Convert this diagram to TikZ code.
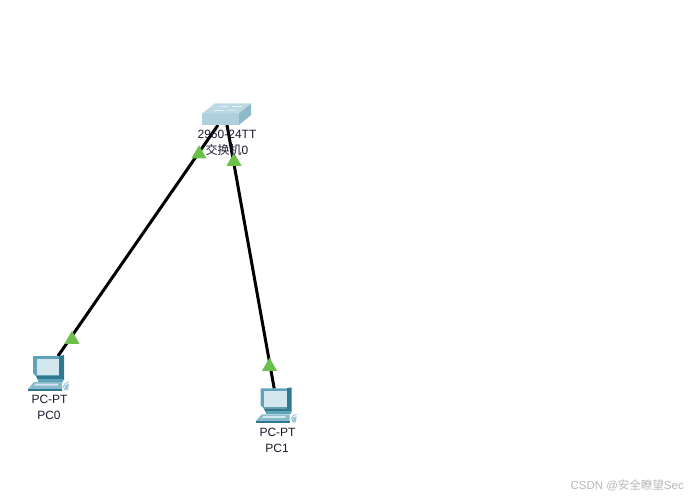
\documentclass[tikz,border=0pt]{standalone}
\usepackage{fontspec}
\setmainfont{Liberation Sans}
\newfontfamily\cjk{Noto Sans CJK SC}
\usetikzlibrary{shapes.geometric}
\definecolor{scrn}{HTML}{D3E6EE}
\definecolor{mon}{HTML}{5FA3B8}
\definecolor{mond}{HTML}{2F7890}
\definecolor{swf}{HTML}{AECFDC}
\definecolor{swt}{HTML}{BCD8E2}
\definecolor{sws}{HTML}{8DB9C8}
\definecolor{tri}{HTML}{6CC04A}
\definecolor{lbl}{HTML}{1A1A2E}
\tikzset{
  x=1pt,y=-1pt,
  link/.style={line width=3pt,black},
  lab/.style={font=\fontsize{12}{14}\selectfont,text=lbl,inner sep=0pt,anchor=center},
  devbox/.style={inner sep=0pt,minimum width=#1,outer sep=0pt},
  status/.style={fill=tri,draw=none,regular polygon,regular polygon sides=3,minimum size=17.5pt,inner sep=0pt},
  pics/pcicon/.style={code={
    % monitor body
    \fill[mon] (0,0) -- (26,0) -- (26,20) -- (3,20) -- (0,17) -- cycle;
    \fill[mond] (26,0) -- (31,-1) -- (31,22) -- (26,22) -- cycle;
    \fill[mond] (3,20) -- (26,20) -- (31,22) -- (31,24) -- (5,24) -- cycle;
    \fill[scrn] (3.5,2.5) -- (26,2.5) -- (26,18.5) -- (3.5,18.5) -- cycle;
    % base and keyboard
    \fill[mon] (5,23) -- (30,23) -- (30,26) -- (5,26) -- cycle;
    \fill[mon!75!white] (1,26) -- (29,26) -- (29,33) -- (-5,33) -- cycle;
    \fill[scrn] (3,27.5) -- (25,27.5) -- (25,29.5) -- (1,29.5) -- cycle;
    \fill[mond] (-5,33) -- (29,33) -- (29,35) -- (-5,35) -- cycle;
    % mouse
    \draw[mon!70!white,line width=.7pt] (30,32) .. controls (31,28) and (33,26) .. (36,26);
    \fill[mon!60!white] (32,29) -- (36,28) -- (35,34) -- (31,34) -- cycle;
  }}
}
\begin{document}
\begin{tikzpicture}
\useasboundingbox (0,0) rectangle (692,499);
\fill[white] (0,0) rectangle (692,499);

% device placeholders (extents of the icons)
\node[devbox=49pt,minimum height=22pt] (sw) at (226.5,114) {};
\node[devbox=31pt,minimum height=35pt] (pc0) at (48.5,373.5) {};
\node[devbox=31pt,minimum height=35pt] (pc1) at (276.2,406) {};

% connectors
\draw[link] ([xshift=16pt]sw.south west) -- ([xshift=-6pt]pc0.north east);
\draw[link] ([xshift=25pt]sw.south west) -- ([xshift=-2pt]pc1.north);

% switch icon
\fill[swf] (202.3,113.3) -- (239,113.3) -- (239,125) -- (202.3,125) -- cycle;
\fill[sws] (239,113.3) -- (251,103.3) -- (251,115) -- (239,125) -- cycle;
\fill[swt] (202.3,113.3) -- (215,103.3) -- (251,103.3) -- (239,113.3) -- cycle;
\draw[white,line width=.5pt] (218,107) -- (228,106.5) (232,106.5) -- (242,106.5)
  (214,110.5) -- (224,110.5) (228,110) -- (236,110);

% PC icons
\pic at (33,356) {pcicon};
\pic at (260.7,388.3) {pcicon};

% link status triangles
\node[status] (t1) at (199,154) {};
\node[status] (t2) at (234,161.5) {};
\node[status] (t3) at (72,339.5) {};
\node[status] (t4) at (269.5,366.5) {};

% labels
\node[lab] (l1) at (227,134) {2960-24TT};
\node[lab] (l2) at (227,150) {{\cjk 交换机}0};
\node[lab] (l3) at (49.5,399) {PC-PT};
\node[lab] (l4) at (49,415) {PC0};
\node[lab] (l5) at (277.5,432) {PC-PT};
\node[lab] (l6) at (277,448) {PC1};
\node[inner sep=0pt,anchor=east,text=black!28,font=\fontsize{11.5}{14}\selectfont] (wm) at (684,485) {CSDN @{\cjk 安全瞭望}Sec};
\end{tikzpicture}
\end{document}
